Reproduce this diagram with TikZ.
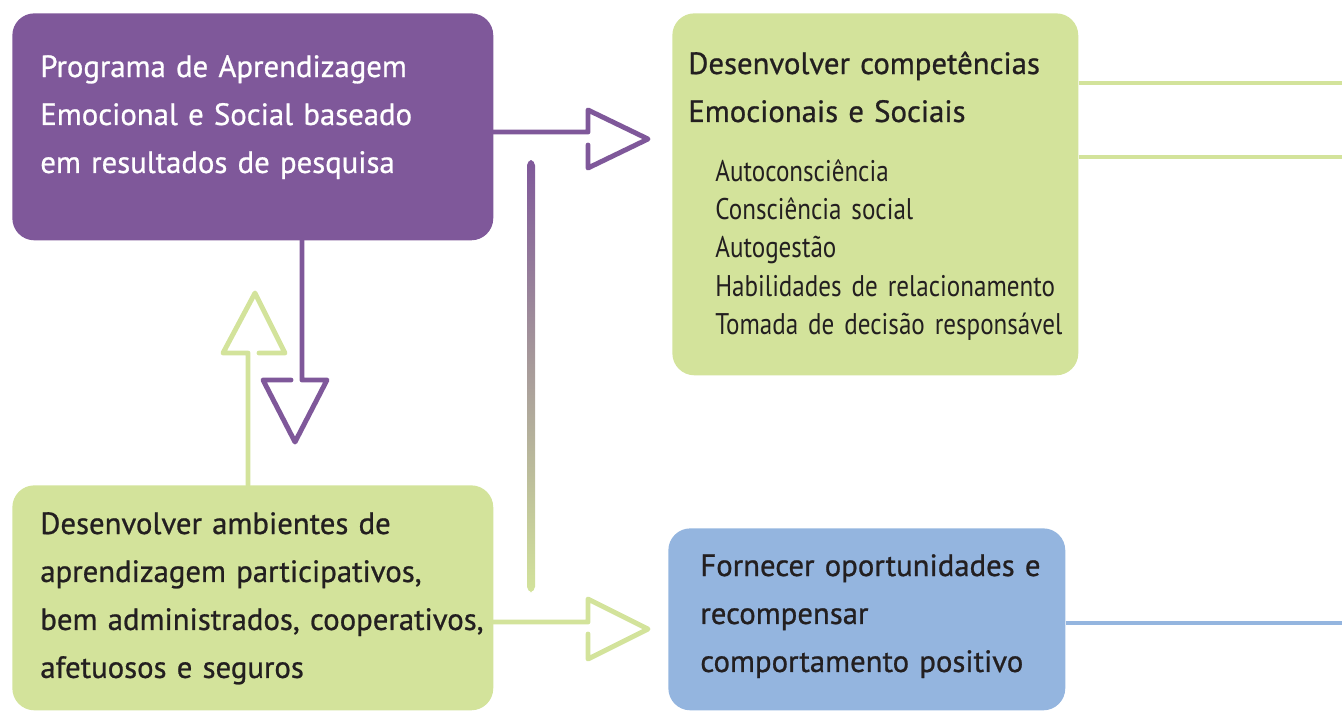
\documentclass[tikz,border=0pt]{standalone}
\usepackage{fontspec}
\setmainfont{PT Sans}
\newfontfamily\headfont[FakeBold=0.8]{PT Sans}
\newfontfamily\listfont[FakeStretch=0.84]{PT Sans}
\definecolor{roxo}{RGB}{127,88,154}
\definecolor{verde}{RGB}{211,227,155}
\definecolor{azul}{RGB}{148,181,223}
\definecolor{tinta}{RGB}{35,31,32}
\tikzset{
  caixa/.style={rounded corners=0.44cm, anchor=north west, inner sep=0pt},
  titulo/.style={anchor=base west, inner sep=0pt, align=left,
    font=\headfont\fontsize{17.5}{27.3}\selectfont},
  itens/.style={anchor=base west, inner sep=0pt, align=left,
    font=\listfont\fontsize{17}{21.9}\selectfont, text=tinta},
  seta/.style={line width=2.8pt, line cap=round, line join=round}
}
\begin{document}
\begin{tikzpicture}[x=0.02cm,y=-0.02cm]
  \useasboundingbox (0,0) rectangle (1342,711);

  % caixas
  \node[caixa, fill=roxo, minimum width=9.62cm, minimum height=4.54cm] (programa) at (12,13) {};
  \node[caixa, fill=verde, minimum width=8.12cm, minimum height=7.24cm] (competencias) at (672,13) {};
  \node[caixa, fill=verde, minimum width=9.62cm, minimum height=4.5cm] (ambientes) at (12,485) {};
  \node[caixa, fill=azul, minimum width=7.94cm, minimum height=3.64cm] (oportunidades) at (668,528) {};

  % textos
  \node[titulo, text=white, text width=9cm] (t1) at (40,77)
    {Programa de Aprendizagem\\Emocional e Social baseado\\em resultados de pesquisa};
  \node[titulo, text=tinta, text width=7.8cm] (t2) at (688,74)
    {Desenvolver competências\\Emocionais e Sociais};
  \node[itens, text width=7.4cm] (t3) at (715,181)
    {Autoconsciência\\Consciência social\\Autogestão\\Habilidades de relacionamento\\Tomada de decisão responsável};
  \node[titulo, text=tinta, text width=9.4cm] (t4) at (40,534)
    {Desenvolver ambientes de\\aprendizagem participativos,\\bem administrados, cooperativos,\\afetuosos e seguros};
  \node[titulo, text=tinta, text width=7.4cm] (t5) at (700,576)
    {Fornecer oportunidades e\\recompensar\\comportamento positivo};

  % saidas para a direita
  \coordinate (saida1) at (1342,83);
  \coordinate (saida2) at (1342,157);
  \coordinate (saida3) at (1342,623);
  \draw[verde, line width=2.8pt] (competencias.east |- saida1) -- (saida1);
  \draw[verde, line width=2.8pt] (competencias.east |- saida2) -- (saida2);
  \draw[azul, line width=2.8pt] (oportunidades.east |- saida3) -- (saida3);

  % setas abertas
  \draw[seta, roxo] (programa.east |- 0,132) -- (588,132) -- (588,110) -- (648,139)
    -- (588,168) -- (588,145);
  \draw[seta, roxo] (programa.south -| 302,0) -- (302,380) -- (327,380) -- (295,442)
    -- (263,380) -- (291,380);
  \draw[seta, verde] (ambientes.north -| 248,0) -- (248,353) -- (223,353) -- (255,293)
    -- (285,353) -- (259,353);
  \draw[seta, verde] (ambientes.east |- 0,622) -- (588,622) -- (588,599) -- (648,629)
    -- (588,659) -- (588,634);

  % linha com degrade
  \shade[top color=roxo, bottom color=verde, rounded corners=3pt] (527,160) rectangle (535,592);
\end{tikzpicture}
\end{document}
